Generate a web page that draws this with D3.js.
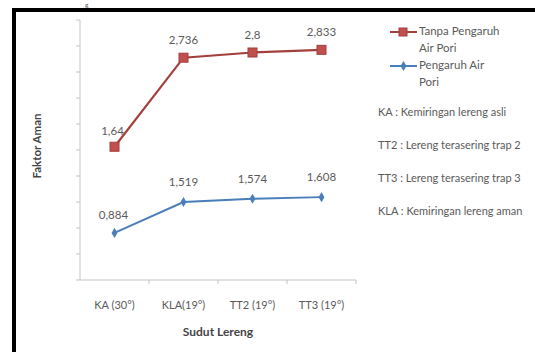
<!DOCTYPE html>
<html>
<head>
<meta charset="utf-8">
<script src="https://cdn.jsdelivr.net/npm/d3@7"></script>
<style>
  body { margin: 0; background: #fff; }
  svg { display: block; font-family: Lato, "Open Sans", sans-serif; }
</style>
</head>
<body>
<svg id="chart" width="535" height="352"></svg>
<script>
const categories = ['KA (30°)', 'KLA(19°)', 'TT2 (19°)', 'TT3 (19°)'];
// plotted positions
const tanpaValues = [1.64, 2.736, 2.8, 2.833];
const pengaruhValues = [0.58, 0.96, 1.0, 1.02];
// printed data labels
const tanpaLabels = ['1,64', '2,736', '2,8', '2,833'];
const pengaruhLabels = ['0,884', '1,519', '1,574', '1,608'];
const yTicks = d3.range(0, 3.21, 0.32);
const notes = [
  'KA : Kemiringan lereng asli',
  'TT2 : Lereng terasering trap 2',
  'TT3 : Lereng terasering trap 3',
  'KLA : Kemiringan lereng aman'
];

const red = '#c0504d', redDark = '#a33f3c';
const blue = '#4a7ebb';
const grey = '#5a5a5a';

const svg = d3.select('#chart');

// page frame
svg.append('path')
  .attr('d', 'M14,352 V10 H535')
  .attr('fill', 'none')
  .attr('stroke', '#000')
  .attr('stroke-width', 4);

// caption letter peeking above the frame
svg.append('text')
  .attr('x', 85).attr('y', 7)
  .attr('font-family', '"Liberation Serif", serif')
  .attr('font-size', 7)
  .attr('fill', '#333')
  .text('g');

const x = d3.scaleBand().domain(categories).range([80, 356]);
const y = d3.scaleLinear().domain([0, 3.2]).range([280, 20]);
const cx = d => x(d) + x.bandwidth() / 2;

// y axis
const ya = svg.append('g').attr('transform', 'translate(80,0)');
ya.append('line').attr('y1', 20).attr('y2', 280).attr('stroke', '#c4c4c4');
ya.selectAll('line.t').data(yTicks).join('line')
  .attr('class', 't')
  .attr('x1', -4).attr('x2', 0)
  .attr('y1', d => y(d)).attr('y2', d => y(d))
  .attr('stroke', '#c4c4c4');

// x axis
const xa = svg.append('g').attr('transform', 'translate(0,280)');
xa.append('line').attr('x1', 80).attr('x2', 356).attr('stroke', '#c4c4c4');
xa.selectAll('line.t').data(categories.slice(1).concat([null])).join('line')
  .attr('class', 't')
  .attr('x1', d => d ? x(d) : 356).attr('x2', d => d ? x(d) : 356)
  .attr('y1', 0).attr('y2', 4)
  .attr('stroke', '#c4c4c4');
xa.selectAll('text').data(categories).join('text')
  .attr('x', d => cx(d)).attr('y', 29)
  .attr('text-anchor', 'middle')
  .attr('font-size', 11)
  .attr('fill', grey)
  .text(d => d);

svg.append('text')
  .attr('x', 218).attr('y', 336)
  .attr('text-anchor', 'middle')
  .attr('font-size', 12).attr('font-weight', 'bold')
  .attr('fill', '#444')
  .text('Sudut Lereng');

svg.append('text')
  .attr('transform', 'translate(41,146) rotate(-90)')
  .attr('text-anchor', 'middle')
  .attr('font-size', 11.5).attr('font-weight', 'bold')
  .attr('fill', '#444')
  .text('Faktor Aman');

const line = d3.line().x((d, i) => cx(categories[i])).y(d => y(d));

// red series
svg.append('path').datum(tanpaValues)
  .attr('d', line).attr('fill', 'none')
  .attr('stroke', redDark).attr('stroke-width', 2.2);
svg.selectAll('rect.m').data(tanpaValues).join('rect')
  .attr('class', 'm')
  .attr('x', (d, i) => cx(categories[i]) - 4.5)
  .attr('y', d => y(d) - 4.5)
  .attr('width', 9).attr('height', 9)
  .attr('fill', red).attr('stroke', redDark);

// blue series
svg.append('path').datum(pengaruhValues)
  .attr('d', line).attr('fill', 'none')
  .attr('stroke', blue).attr('stroke-width', 2);
const diamond = d3.symbol().type(d3.symbolDiamond).size(30);
svg.selectAll('path.m').data(pengaruhValues).join('path')
  .attr('class', 'm')
  .attr('transform', (d, i) => `translate(${cx(categories[i])},${y(d)})`)
  .attr('d', diamond())
  .attr('fill', blue);

// data labels
svg.selectAll('text.lr').data(tanpaValues).join('text')
  .attr('class', 'lr')
  .attr('x', (d, i) => cx(categories[i]) - (i === 0 ? 2 : 0))
  .attr('y', (d, i) => y(d) - (i === 0 ? 12 : 14))
  .attr('text-anchor', 'middle')
  .attr('font-size', 11.5).attr('fill', grey)
  .text((d, i) => tanpaLabels[i]);
svg.selectAll('text.lb').data(pengaruhValues).join('text')
  .attr('class', 'lb')
  .attr('x', (d, i) => cx(categories[i]) - (i === 0 ? 1 : 0))
  .attr('y', (d, i) => y(d) - (i === 0 ? 14 : 16))
  .attr('text-anchor', 'middle')
  .attr('font-size', 11.5).attr('fill', grey)
  .text((d, i) => pengaruhLabels[i]);

// legend
const legend = [
  { color: red, dark: redDark, lines: ['Tanpa Pengaruh', 'Air Pori'], y: 32, m: 'sq' },
  { color: blue, dark: blue, lines: ['Pengaruh Air', 'Pori'], y: 66, m: 'di' }
];
const lg = svg.selectAll('g.lg').data(legend).join('g')
  .attr('class', 'lg')
  .attr('transform', d => `translate(390,${d.y})`);
lg.append('line').attr('x1', 0).attr('x2', 27)
  .attr('stroke', d => d.dark).attr('stroke-width', 2);
lg.filter(d => d.m === 'sq').append('rect')
  .attr('x', 9).attr('y', -4).attr('width', 8).attr('height', 8)
  .attr('fill', red).attr('stroke', redDark);
lg.filter(d => d.m === 'di').append('path')
  .attr('transform', 'translate(13.5,0)')
  .attr('d', diamond()).attr('fill', blue);
lg.selectAll('text').data(d => d.lines).join('text')
  .attr('x', 29).attr('y', (d, i) => 3 + i * 17)
  .attr('font-size', 11.5).attr('fill', grey)
  .text(d => d);

svg.selectAll('text.note').data(notes).join('text')
  .attr('class', 'note')
  .attr('x', 378).attr('y', (d, i) => 116 + i * 33)
  .attr('font-size', 11).attr('fill', grey)
  .text(d => d);
</script>
</body>
</html>
